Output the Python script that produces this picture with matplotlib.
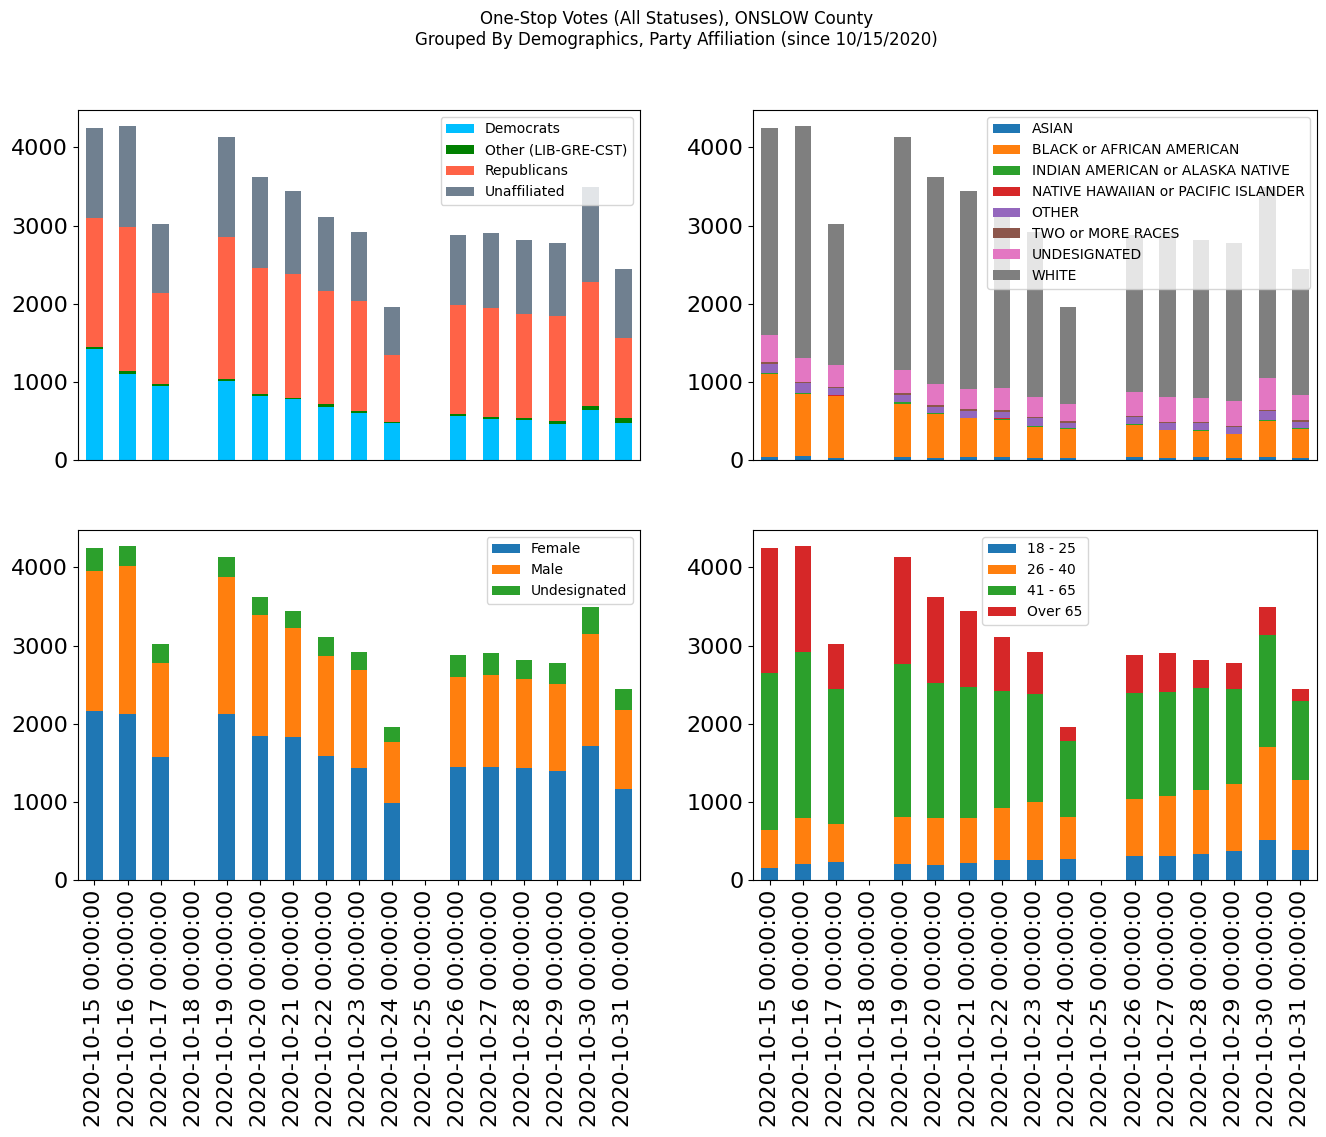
import matplotlib
matplotlib.use("Agg")
import matplotlib.pyplot as plt
import numpy as np
import pandas as pd

dates = ["2020-10-15 00:00:00", "2020-10-16 00:00:00", "2020-10-17 00:00:00", "2020-10-18 00:00:00",
         "2020-10-19 00:00:00", "2020-10-20 00:00:00", "2020-10-21 00:00:00", "2020-10-22 00:00:00",
         "2020-10-23 00:00:00", "2020-10-24 00:00:00", "2020-10-25 00:00:00", "2020-10-26 00:00:00",
         "2020-10-27 00:00:00", "2020-10-28 00:00:00", "2020-10-29 00:00:00", "2020-10-30 00:00:00",
         "2020-10-31 00:00:00"]

# Party affiliation
democrats    = [1423, 1103, 949, 0, 1013, 821, 782, 679, 603, 474, 0, 564, 526, 513, 462, 641, 474]
other_party  = [26, 38, 25, 0, 25, 25, 13, 39, 25, 13, 0, 26, 25, 25, 38, 51, 64]
republicans  = [1654, 1846, 1167, 0, 1821, 1616, 1590, 1449, 1410, 859, 0, 1397, 1398, 1334, 1346, 1590, 1026]
unaffiliated = [1141, 1282, 885, 0, 1269, 1166, 1064, 948, 885, 616, 0, 898, 961, 949, 936, 1218, 885]

# Race
asian      = [38, 51, 26, 0, 38, 26, 38, 38, 26, 26, 0, 38, 26, 38, 26, 38, 26]
black      = [1065, 795, 795, 0, 680, 564, 500, 475, 397, 371, 0, 411, 359, 334, 307, 462, 371]
indian     = [12, 13, 4, 0, 26, 13, 5, 17, 13, 13, 0, 13, 4, 13, 5, 13, 13]
hawaiian   = [2, 2, 1, 0, 2, 1, 1, 2, 1, 1, 0, 1, 1, 1, 1, 2, 1]
race_other = [114, 126, 97, 0, 87, 75, 84, 83, 101, 63, 0, 88, 84, 88, 84, 113, 76]
two_more   = [25, 13, 13, 0, 26, 26, 26, 26, 13, 26, 0, 13, 13, 13, 13, 13, 26]
undesig    = [347, 308, 282, 0, 295, 269, 256, 282, 257, 218, 0, 308, 321, 308, 320, 410, 320]
white      = [2641, 2961, 1808, 0, 2974, 2654, 2539, 2192, 2115, 1244, 0, 2013, 2102, 2026, 2026, 2449, 1616]

# Gender
female     = [2167, 2128, 1577, 0, 2128, 1846, 1833, 1590, 1436, 987, 0, 1449, 1449, 1436, 1397, 1718, 1167]
male       = [1782, 1885, 1205, 0, 1744, 1551, 1398, 1282, 1256, 782, 0, 1154, 1179, 1141, 1116, 1436, 1012]
gender_und = [295, 256, 244, 0, 256, 231, 218, 243, 231, 193, 0, 282, 282, 244, 269, 346, 270]

# Age
age_18_25 = [154, 205, 231, 0, 205, 192, 218, 256, 256, 269, 0, 308, 308, 333, 372, 513, 385]
age_26_40 = [487, 590, 487, 0, 603, 603, 577, 667, 744, 539, 0, 730, 769, 821, 859, 1192, 897]
age_41_65 = [2013, 2128, 1731, 0, 1961, 1731, 1679, 1500, 1385, 974, 0, 1359, 1333, 1308, 1218, 1436, 1013]
age_over65 = [1590, 1346, 577, 0, 1359, 1102, 975, 692, 538, 180, 0, 488, 500, 359, 333, 359, 154]

party_df = pd.DataFrame({"Democrats": democrats, "Other (LIB-GRE-CST)": other_party,
                         "Republicans": republicans, "Unaffiliated": unaffiliated}, index=dates)
race_df = pd.DataFrame({"ASIAN": asian, "BLACK or AFRICAN AMERICAN": black,
                        "INDIAN AMERICAN or ALASKA NATIVE": indian,
                        "NATIVE HAWAIIAN or PACIFIC ISLANDER": hawaiian,
                        "OTHER": race_other, "TWO or MORE RACES": two_more,
                        "UNDESIGNATED": undesig, "WHITE": white}, index=dates)
gender_df = pd.DataFrame({"Female": female, "Male": male, "Undesignated": gender_und}, index=dates)
age_df = pd.DataFrame({"18 - 25": age_18_25, "26 - 40": age_26_40, "41 - 65": age_41_65,
                       "Over 65": age_over65}, index=dates)

fig = plt.figure(figsize=(13.26, 11.37), dpi=100)
WL = 0.4238
WR = 0.4253
H = 0.3079
ax1 = fig.add_axes([0.0588, 0.5954, WL, H])
ax2 = fig.add_axes([0.5679, 0.5954, WR, H])
ax3 = fig.add_axes([0.0588, 0.2260, WL, H])
ax4 = fig.add_axes([0.5679, 0.2260, WR, H])

party_df.plot.bar(stacked=True, ax=ax1, color=["deepskyblue", "green", "tomato", "slategray"])
race_df.plot.bar(stacked=True, ax=ax2)
gender_df.plot.bar(stacked=True, ax=ax3)
age_df.plot.bar(stacked=True, ax=ax4)

for ax in (ax1, ax2, ax3, ax4):
    ax.tick_params(axis="both", labelsize=16)
    ax.set_ylim(0, 4480)
    ax.set_yticks([0, 1000, 2000, 3000, 4000])

for ax in (ax1, ax2):
    ax.tick_params(axis="x", bottom=False, labelbottom=False)

ax1.legend(loc="upper right", fontsize=10)
ax2.legend(loc="upper right", fontsize=10)
ax3.legend(loc="upper right", fontsize=10)
ax4.legend(loc="upper center", fontsize=10)

fig.suptitle("One-Stop Votes (All Statuses), ONSLOW County\nGrouped By Demographics, Party Affiliation (since 10/15/2020)",
             fontsize=12, x=0.51, y=0.991)

fig.savefig("out.png", dpi=100)
